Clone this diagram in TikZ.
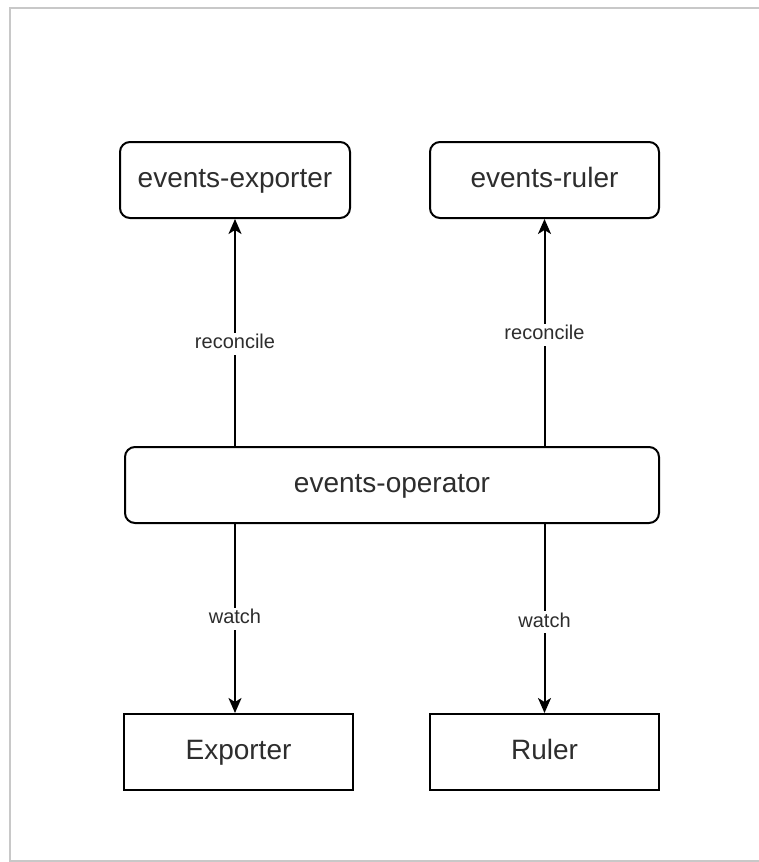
\documentclass[tikz,border=0pt]{standalone}
\usepackage{fontspec}
\setmainfont{Liberation Sans}
\usetikzlibrary{arrows.meta}
\definecolor{framegray}{RGB}{200,200,200}
\definecolor{inkgray}{RGB}{45,45,45}
\begin{document}
\begin{tikzpicture}[x=1pt,y=-1pt,
  box/.style={draw=black, line width=2pt, fill=white, text=inkgray,
    inner sep=0pt, minimum height=76pt, text height=20pt, text depth=6pt,
    font=\fontsize{28}{32}\selectfont},
  roundbox/.style={box, rounded corners=10pt},
  arr/.style={draw=black, line width=2pt,
    -{Stealth[length=15pt,width=13pt,inset=4pt]}},
  lbl/.style={fill=white, text=inkgray, inner sep=2pt,
    text height=14pt, text depth=4pt,
    font=\fontsize{20}{24}\selectfont}]
  % canvas and its frame
  \useasboundingbox (0,0) rectangle (759,862);
  \draw[framegray, line width=2pt] (759,8) -- (10,8) -- (10,861) -- (759,861);

  % controllers
  \node[roundbox, minimum width=230pt] (ee) at (235,180) {events-exporter};
  \node[roundbox, minimum width=229pt] (er) at (544.5,180) {events-ruler};
  \node[roundbox, minimum width=534pt] (op) at (392,485) {events-operator};

  % watched resources
  \node[box, minimum width=229pt] (ex) at (238.5,752) {Exporter};
  \node[box, minimum width=229pt] (ru) at (544.5,752) {Ruler};

  % reconcile links
  \draw[arr] (op.north -| ee.south) -- node[lbl, pos=0.45] {reconcile} (ee.south);
  \draw[arr] (op.north -| er.south) -- node[lbl, pos=0.49] {reconcile} (er.south);

  % watch links
  \draw[arr] (op.south -| ee.south) -- node[lbl, pos=0.5] {watch} (ex.north -| ee.south);
  \draw[arr] (op.south -| er.south) -- node[lbl, pos=0.52] {watch} (ru.north);
\end{tikzpicture}
\end{document}
